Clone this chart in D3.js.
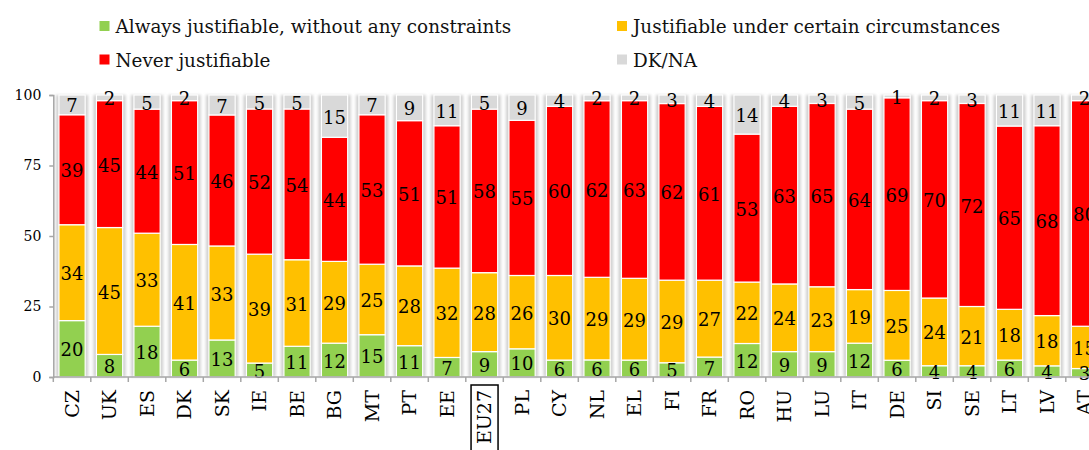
<!DOCTYPE html>
<html>
<head>
<meta charset="utf-8">
<script src="https://cdn.jsdelivr.net/npm/d3@7"></script>
<style>
  body { margin: 0; background: #fff; }
  svg { display: block; font-family: Georgia, "DejaVu Serif", serif; }
</style>
</head>
<body>
<svg id="chart" width="1089" height="450"></svg>
<script>
// categories, bottom to top of each bar
var countries = ["CZ", "UK", "ES", "DK", "SK", "IE", "BE", "BG", "MT", "PT", "EE", "EU27", "PL", "CY",
    "NL", "EL", "FI", "FR", "RO", "HU", "LU", "IT", "DE", "SI", "SE", "LT", "LV", "AT"];
var always  = [20, 8, 18, 6, 13, 5, 11, 12, 15, 11, 7, 9, 10, 6, 6, 6, 5, 7, 12, 9, 9, 12, 6, 4, 4, 6, 4, 3];
var certain = [34, 45, 33, 41, 33, 39, 31, 29, 25, 28, 32, 28, 26, 30, 29, 29, 29, 27, 22, 24, 23, 19, 25, 24, 21, 18, 18, 15];
var never   = [39, 45, 44, 51, 46, 52, 54, 44, 53, 51, 51, 58, 55, 60, 62, 63, 62, 61, 53, 63, 65, 64, 69, 70, 72, 65, 68, 80];
var dkna    = [7, 2, 5, 2, 7, 5, 5, 15, 7, 9, 11, 5, 9, 4, 2, 2, 3, 4, 14, 4, 3, 5, 1, 2, 3, 11, 11, 2];

var seriesKeys = ["always", "certain", "never", "dkna"];
var seriesNames = ["Always justifiable, without any constraints", "Justifiable under certain circumstances",
    "Never justifiable", "DK/NA"];
var colors = ["#92d050", "#ffc000", "#ff0000", "#d9d9d9"];
var yTicks = [0, 25, 50, 75, 100];

var rows = countries.map((c, i) => ({
    id: c, always: always[i], certain: certain[i], never: never[i], dkna: dkna[i]
}));

const svg = d3.select("#chart");

// scales
var x = d3.scaleBand()
    .domain(countries)
    .range([53.3, 53.3 + 37.5 * countries.length])
    .paddingInner(0.3)
    .paddingOuter(0.15);

var y = d3.scaleLinear()
    .domain([0, 100])
    .range([377, 95]);

var z = d3.scaleOrdinal().domain(seriesKeys).range(colors);

// 100% stacked, like the original
var stacked = d3.stack()
    .keys(seriesKeys)
    .offset(d3.stackOffsetExpand)(rows);

// soft shadow round each bar
var defs = svg.append("defs");
var f = defs.append("filter").attr("id", "glow")
    .attr("x", "-50%").attr("y", "-10%").attr("width", "200%").attr("height", "120%");
f.append("feGaussianBlur").attr("stdDeviation", 1.6);

svg.append("g")
    .selectAll("rect")
    .data(countries)
    .join("rect")
    .attr("x", d => x(d) - 3)
    .attr("y", y(100))
    .attr("width", x.bandwidth() + 6)
    .attr("height", y(0) - y(100))
    .attr("fill", "#cfcfcf")
    .attr("filter", "url(#glow)");

// stacked segments
const layer = svg.append("g")
    .selectAll("g")
    .data(stacked)
    .join("g")
    .attr("fill", d => z(d.key));

layer.selectAll("rect")
    .data(d => d)
    .join("rect")
    .attr("x", d => x(d.data.id))
    .attr("y", d => y(d[1] * 100))
    .attr("width", x.bandwidth())
    .attr("height", d => y(d[0] * 100) - y(d[1] * 100))
    .attr("stroke", "white")
    .attr("stroke-width", 1.2);

// value labels
svg.append("g")
    .selectAll("g")
    .data(stacked)
    .join("g")
    .selectAll("text")
    .data(d => d.map(v => ({ v: v, val: v.data[d.key] })))
    .join("text")
    .attr("x", d => x(d.v.data.id) + x.bandwidth() / 2)
    .attr("y", d => y((d.v[0] + d.v[1]) * 50))
    .attr("dy", "0.42em")
    .attr("text-anchor", "middle")
    .attr("font-size", 18)
    .attr("fill", "#000")
    .text(d => d.val);

// y axis
const yAxis = svg.append("g")
    .attr("transform", "translate(53.3,0)")
    .call(d3.axisLeft(y).tickValues(yTicks).tickSize(4).tickPadding(8));
yAxis.select(".domain").attr("stroke", "#a6a6a6").attr("stroke-width", 1.5);
yAxis.selectAll(".tick line").attr("stroke", "#a6a6a6").attr("stroke-width", 1.5);
yAxis.selectAll(".tick text").attr("font-size", 14).attr("font-family", "Georgia, 'DejaVu Serif', serif").attr("fill", "#000");

// x axis line with ticks between categories
var xBottom = svg.append("g");
xBottom.append("line")
    .attr("x1", x.range()[0]).attr("x2", x.range()[1])
    .attr("y1", y(0)).attr("y2", y(0))
    .attr("stroke", "#a6a6a6").attr("stroke-width", 1.5);
xBottom.selectAll(".sep")
    .data(d3.range(countries.length + 1))
    .join("line")
    .attr("x1", i => x.range()[0] + i * x.step())
    .attr("x2", i => x.range()[0] + i * x.step())
    .attr("y1", y(0)).attr("y2", y(0) + 5)
    .attr("stroke", "#a6a6a6").attr("stroke-width", 1.5);

// rotated country codes
var xl = svg.append("g")
    .selectAll("g")
    .data(countries)
    .join("g")
    .attr("transform", d => "translate(" + (x(d) + x.bandwidth() / 2) + "," + (y(0) + 13) + ") rotate(-90)");

xl.append("text")
    .attr("text-anchor", "end")
    .attr("dy", "0.36em")
    .attr("font-size", 19)
    .attr("fill", "#000")
    .text(d => d);

// box round EU27
var eu = xl.filter(d => d == "EU27");
eu.append("rect")
    .attr("x", -80)
    .attr("y", -13.5)
    .attr("width", 80 + 5)
    .attr("height", 27)
    .attr("fill", "none")
    .attr("stroke", "#000")
    .attr("stroke-width", 1.5);

// legend
var legend = svg.append("g")
    .selectAll("g")
    .data(seriesKeys)
    .join("g")
    .attr("transform", (d, i) => "translate(" + (i % 2 ? 617 : 99.5) + "," + (i < 2 ? 21 : 54.5) + ")");

legend.append("rect")
    .attr("width", 10)
    .attr("height", 10)
    .attr("fill", d => z(d));

legend.append("text")
    .attr("x", 16)
    .attr("y", 12)
    .attr("font-size", 18.4)
    .attr("fill", "#111")
    .text((d, i) => seriesNames[i]);
</script>
</body>
</html>
